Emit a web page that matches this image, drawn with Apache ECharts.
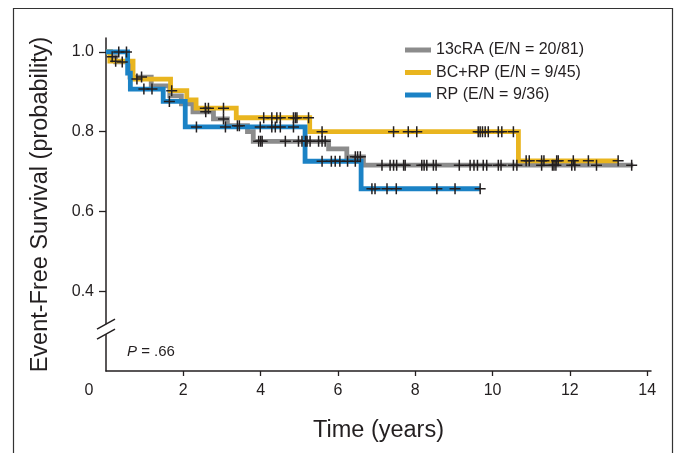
<!DOCTYPE html>
<html>
<head>
<meta charset="utf-8">
<script src="https://cdn.jsdelivr.net/npm/echarts@6/dist/echarts.min.js"></script>
<style>
  html, body { margin: 0; padding: 0; background: #fff; }
  #main { width: 679px; height: 453px; }
</style>
</head>
<body>
<div id="main"></div>
<script>
// step points of each Kaplan-Meier curve (time in years, survival)
var grayT = [0, 0.12, 0.25, 0.62, 1.17, 1.65, 1.95, 2.25, 2.78, 3.14, 3.66, 3.81, 5.76, 6.23, 6.66, 13.64];
var grayS = [1.0, 0.988, 0.975, 0.937, 0.915, 0.89, 0.87, 0.85, 0.832, 0.815, 0.80, 0.776, 0.757, 0.737, 0.716, 0.716];
var goldT = [0, 0.1, 0.7, 1.67, 2.09, 2.33, 3.37, 5.27, 10.67, 13.25];
var goldS = [1.0, 0.977, 0.932, 0.903, 0.88, 0.859, 0.835, 0.80, 0.727, 0.727];
var blueT = [0, 0.56, 0.63, 1.48, 2.05, 5.15, 6.6, 9.68];
var blueS = [1.0, 0.947, 0.907, 0.876, 0.812, 0.726, 0.657, 0.657];

// censored observations (years)
var grayCens = [0.16, 0.42, 0.92, 2.58, 3.04, 3.4, 3.45, 3.95, 4.0, 4.04, 4.64, 4.98, 5.07, 5.16, 5.2, 5.28, 5.5, 5.59, 5.67,
  6.45, 6.51, 6.58, 7.14, 7.35, 7.44, 7.52, 7.7, 7.74, 8.17, 8.23, 8.3, 8.47, 8.54, 9.14, 9.42, 9.52, 9.61, 9.76, 9.85,
  10.15, 10.22, 10.54, 10.63, 11.27, 11.55, 11.59, 11.64, 12.05, 12.13, 12.69, 13.6];
var goldCens = [0.25, 0.8, 1.7, 2.57, 2.65, 3.04, 4.08, 4.29, 4.42, 4.51, 4.85, 4.9, 4.94, 5.24, 5.59, 7.44, 7.82, 8.04,
  9.63, 9.68, 9.74, 9.81, 9.89, 10.15, 10.24, 10.54, 10.87, 10.95, 11.27, 11.33, 11.66, 11.7, 12.09, 12.48, 13.25];
var blueCens = [0.33, 0.53, 0.98, 1.19, 1.64, 2.34, 3.09, 3.99, 4.29, 4.38, 4.51, 4.85, 5.59, 5.83, 5.93, 6.05, 6.25, 6.45,
  6.88, 6.96, 7.27, 7.51, 8.56, 9.03, 9.68];

var names = ['13cRA (E/N = 20/81)', 'BC+RP (E/N = 9/45)', 'RP (E/N = 9/36)'];
var colors = ['#8c8c8c', '#e9b51f', '#1b82c5'];
var xTicks = [2, 4, 6, 8, 10, 12, 14];
var xLabels = [0, 2, 4, 6, 8, 10, 12, 14];
var yTicks = [0.4, 0.6, 0.8, 1.0];
var breakAt = 0.305;

var ink = '#231f20';
var font = 'Liberation Sans, Arial, sans-serif';

function levelAt(T, S, t) {
  var v = S[0];
  for (var i = 0; i < T.length; i++) { if (T[i] <= t) v = S[i]; }
  return v;
}

function curve(name, T, S, color) {
  return {
    name: name, type: 'line', step: 'end', showSymbol: false, silent: true,
    data: T.map(function (t, i) { return [t, S[i]]; }),
    lineStyle: { color: color, width: 4.8, cap: 'butt', join: 'miter' },
    itemStyle: { color: color }
  };
}

function marks(T, S, cens) {
  return {
    type: 'scatter', silent: true, z: 5,
    symbol: 'path://M5 0L5 10M0 5L10 5', symbolSize: 11,
    data: cens.map(function (t) { return [t, levelAt(T, S, t)]; }),
    itemStyle: { color: 'rgba(0,0,0,0)', borderColor: ink, borderWidth: 1.5, opacity: 1 }
  };
}

var chart = echarts.init(document.getElementById('main'));
chart.setOption({
  animation: false,
  textStyle: { fontFamily: font },
  grid: { left: 106, right: 28, top: 38, bottom: 82 },
  legend: {
    data: names, orient: 'vertical', left: 405, top: 41, padding: 0, icon: 'rect',
    itemWidth: 26, itemHeight: 5, itemGap: 4.5,
    textStyle: { fontSize: 16, color: ink, fontFamily: font, lineHeight: 18 }
  },
  xAxis: {
    type: 'value', min: 0, max: 14.1,
    axisLine: { onZero: false, lineStyle: { color: ink, width: 1.5 } },
    axisTick: { show: true, customValues: xTicks, length: 5, lineStyle: { color: ink, width: 1.3 } },
    axisLabel: {
      customValues: xLabels, fontSize: 16, color: ink, margin: 12,
      formatter: function (v) { return v === 0 ? '{z|0}' : String(v); },
      rich: { z: { fontSize: 16, color: ink, padding: [0, 34, 0, 0] } }
    },
    splitLine: { show: false },
    name: 'Time (years)', nameLocation: 'middle', nameGap: 48,
    nameTextStyle: { fontSize: 23.5, color: ink }
  },
  yAxis: {
    type: 'value', min: 0.2, max: 1.035,
    axisLine: { onZero: false, lineStyle: { color: ink, width: 1.5 } },
    axisTick: { show: true, customValues: yTicks, length: 7, lineStyle: { color: ink, width: 1.3 } },
    axisLabel: {
      customValues: yTicks, fontSize: 16, color: ink, margin: 12,
      formatter: function (v) { return v.toFixed(1); }
    },
    splitLine: { show: false },
    name: 'Event-Free Survival (probability)', nameLocation: 'middle', nameGap: 53,
    nameTextStyle: { fontSize: 23.5, color: ink }
  },
  series: [
    curve(names[0], grayT, grayS, colors[0]),
    curve(names[1], goldT, goldS, colors[1]),
    curve(names[2], blueT, blueS, colors[2]),
    marks(grayT, grayS, grayCens),
    marks(goldT, goldS, goldCens),
    marks(blueT, blueS, blueCens)
  ]
});

// axis break, p-value and figure frame
var p = chart.convertToPixel({ gridIndex: 0 }, [0, breakAt]);
var ax = p[0], by = p[1];
chart.setOption({
  graphic: [
    { type: 'rect', shape: { x: 13.5, y: 8.5, width: 659, height: 470 },
      style: { fill: 'none', stroke: '#333', lineWidth: 1.2 }, silent: true },
    { type: 'rect', shape: { x: ax - 4, y: by - 5, width: 8, height: 10 },
      style: { fill: '#fff' }, z: 10 },
    { type: 'line', shape: { x1: ax - 9, y1: by + 0, x2: ax + 9, y2: by - 10 },
      style: { stroke: ink, lineWidth: 1.5 }, z: 11 },
    { type: 'line', shape: { x1: ax - 9, y1: by + 10, x2: ax + 9, y2: by + 0 },
      style: { stroke: ink, lineWidth: 1.5 }, z: 11 },
    { type: 'text', left: 127, top: 344, z: 11,
      style: { text: '{i|P} = .66', fontSize: 15, fill: ink, fontFamily: font,
        rich: { i: { fontStyle: 'italic', fontSize: 15, fontFamily: font, fill: ink } } } }
  ]
});
</script>
</body>
</html>
